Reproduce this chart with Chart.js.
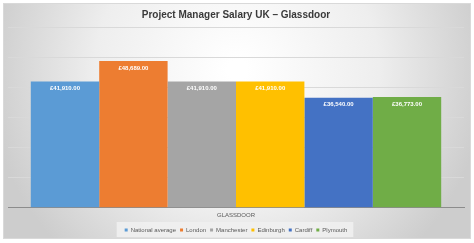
<!DOCTYPE html>
<html>
<head>
<meta charset="utf-8">
<script src="https://cdn.jsdelivr.net/npm/chart.js@4"></script>
<style>
html,body{margin:0;padding:0;background:#fff;}
#wrap{position:relative;width:474px;height:243px;}
</style>
</head>
<body>
<div id="wrap"><canvas id="c" width="474" height="243"></canvas></div>
<script>
const categories = ["GLASSDOOR"];
const seriesNames = ["National average", "London", "Manchester", "Edinburgh", "Cardiff", "Plymouth"];
const seriesValues = [41910, 48689, 41910, 41910, 36540, 36773];
const seriesColors = ["#5B9BD5", "#ED7D31", "#A5A5A5", "#FFC000", "#4472C4", "#70AD47"];
const yTicks = [0, 10000, 20000, 30000, 40000, 50000, 60000];

const FONT = "'Liberation Sans', Arial, sans-serif";
const fmt = v => "£" + v.toLocaleString("en-GB", {minimumFractionDigits: 2, maximumFractionDigits: 2});

const bgPlugin = {
  id: "bg",
  beforeDraw(chart) {
    const ctx = chart.ctx;
    const w = chart.width, h = chart.height;
    ctx.save();
    ctx.fillStyle = "#ffffff";
    ctx.fillRect(0, 0, w, h);
    const g = ctx.createRadialGradient(237, 70, 10, 237, 70, 250);
    g.addColorStop(0, "#ffffff");
    g.addColorStop(0.55, "#eeeeee");
    g.addColorStop(1, "#cdcdcd");
    ctx.fillStyle = g;
    ctx.fillRect(3, 3, 467, 235);
    ctx.strokeStyle = "#d9d9d9";
    ctx.lineWidth = 1;
    ctx.strokeRect(3.5, 3.5, 467, 235);
    const lg = chart.legend;
    if (lg && lg.legendHitBoxes && lg.legendHitBoxes.length) {
      let x0 = Infinity, x1 = -Infinity, y0 = Infinity, y1 = -Infinity;
      lg.legendHitBoxes.forEach(b => {
        x0 = Math.min(x0, b.left); x1 = Math.max(x1, b.left + b.width);
        y0 = Math.min(y0, b.top); y1 = Math.max(y1, b.top + b.height);
      });
      ctx.fillStyle = "rgba(240,240,240,0.9)";
      ctx.fillRect(x0 - 8, y0 - 5, x1 - x0 + 14, y1 - y0 + 9);
    }
    ctx.restore();
  }
};

const labelPlugin = {
  id: "vals",
  afterDatasetsDraw(chart) {
    const ctx = chart.ctx;
    ctx.save();
    ctx.font = "bold 6px " + FONT;
    ctx.fillStyle = "#ffffff";
    ctx.textAlign = "center";
    ctx.textBaseline = "middle";
    chart.data.datasets.forEach((ds, i) => {
      const meta = chart.getDatasetMeta(i);
      meta.data.forEach((el, j) => {
        ctx.fillText(fmt(ds.data[j]), el.x, el.y + 7);
      });
    });
    ctx.restore();
  }
};

new Chart(document.getElementById("c"), {
  type: "bar",
  data: {
    labels: categories,
    datasets: seriesNames.map((n, i) => ({
      label: n,
      data: [seriesValues[i]],
      backgroundColor: seriesColors[i],
      borderWidth: 0,
      categoryPercentage: 0.9,
      barPercentage: 1.0
    }))
  },
  options: {
    responsive: false,
    animation: false,
    devicePixelRatio: 1,
    layout: { padding: { left: 8, right: 10, top: 0, bottom: 0 } },
    plugins: {
      title: {
        display: true,
        text: "Project Manager Salary UK – Glassdoor",
        color: "#3a3a3a",
        font: { family: FONT, size: 10, weight: "bold" },
        padding: { top: 9, bottom: 6 }
      },
      legend: {
        position: "bottom",
        labels: {
          usePointStyle: true,
          pointStyle: "rect",
          boxWidth: 3,
          boxHeight: 3,
          padding: 4,
          color: "#595959",
          font: { family: FONT, size: 6 }
        }
      },
      tooltip: { enabled: false }
    },
    scales: {
      x: {
        grid: { display: false, drawTicks: false },
        border: { display: true, color: "#8c8c8c", width: 1 },
        ticks: { color: "#595959", font: { family: FONT, size: 6 }, padding: 4 }
      },
      y: {
        min: yTicks[0],
        max: yTicks[yTicks.length - 1],
        afterBuildTicks: s => { s.ticks = yTicks.map(v => ({ value: v })); },
        ticks: { display: false },
        grid: { color: "#d9d9d9", drawTicks: false },
        border: { display: false }
      }
    }
  },
  plugins: [bgPlugin, labelPlugin]
});
</script>
</body>
</html>
